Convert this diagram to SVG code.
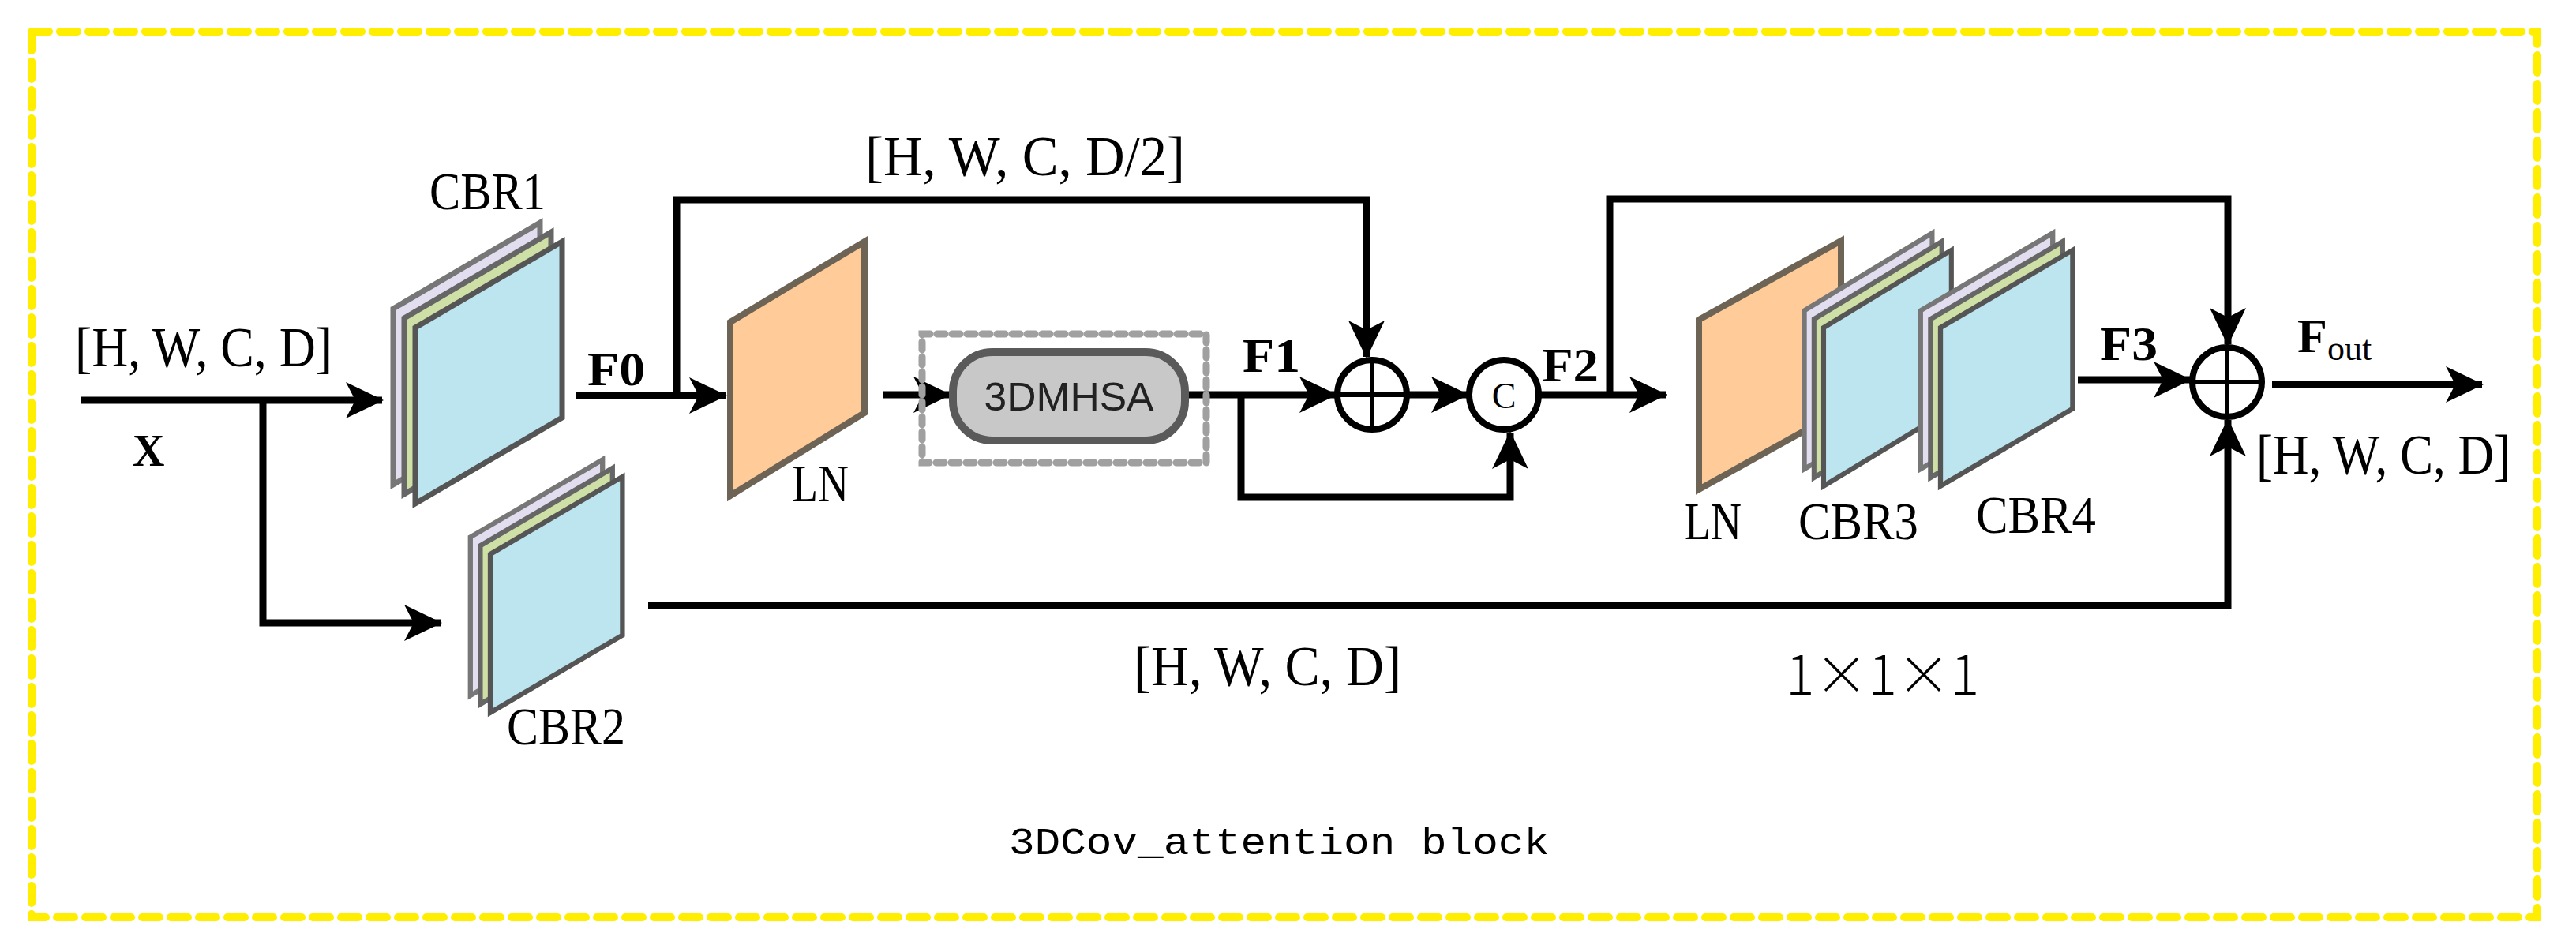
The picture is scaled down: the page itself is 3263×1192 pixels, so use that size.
<svg xmlns="http://www.w3.org/2000/svg" width="3263" height="1192" viewBox="0 0 3263 1192">
<style>
.t{font-family:"Liberation Serif","Noto Serif CJK SC",serif;fill:#000}
.b{font-weight:bold}
.c{fill:none;stroke:#000;stroke-width:9;stroke-linejoin:miter}
.a{marker-end:url(#ah)}
.blue{fill:#BDE5EF;stroke:#555;stroke-width:7}
.grn{fill:#CFE0A6;stroke:#666;stroke-width:7}
.lav{fill:#E2DDEF;stroke:#777;stroke-width:7}
.org{fill:#FFCC99;stroke:#6e6456;stroke-width:8}
</style>
<defs>
<marker id="ah" markerUnits="userSpaceOnUse" markerWidth="50" markerHeight="50" viewBox="0 0 50 50" refX="46" refY="25" orient="auto">
<path d="M0,2 L48,25 L0,48 L12,25 Z" fill="#000"/>
</marker>
<g id="cbr">
<polygon class="lav" points="-28,-24 158,-133 158,90 -28,199"/>
<polygon class="grn" points="-14,-12 172,-121 172,102 -14,211"/>
<polygon class="blue" points="0,0 186,-109 186,114 0,223"/>
</g>
</defs>
<rect x="40" y="40" width="3174" height="1122" fill="none" stroke="#FFEE00" stroke-width="10" stroke-dasharray="22,14" stroke-linecap="round"/>
<g id="connectors">
<polyline class="c a" points="102,507 484,507"/>
<polyline class="c a" points="333,507 333,789 558,789"/>
<polyline class="c a" points="730,501 919,501"/>
<polyline class="c a" points="857,501 857,253 1731,253 1731,452"/>
<polyline class="c a" points="1119,500 1203,500"/>
<polyline class="c a" points="1497,500 1692,500"/>
<polyline class="c a" points="1572,500 1572,630 1913,630 1913,548"/>
<polyline class="c a" points="1784,500 1859,500"/>
<polyline class="c a" points="1951,500 2110,500"/>
<polyline class="c a" points="2039,500 2039,252 2822,252 2822,436"/>
<polyline class="c a" points="2632,481 2774,481"/>
<polyline class="c a" points="821,767 2822,767 2822,532"/>
<polyline class="c a" points="2878,487 3144,487"/>
</g>
<g id="cbr1"><use href="#cbr" transform="translate(526,415)"/><text class="t" x="544" y="265" font-size="68" textLength="147" lengthAdjust="spacingAndGlyphs">CBR1</text></g>
<g id="cbr2"><use href="#cbr" transform="translate(621,702) scale(0.9)"/><text class="t" x="642" y="943" font-size="68" textLength="150" lengthAdjust="spacingAndGlyphs">CBR2</text></g>
<g id="ln1"><polygon class="org" points="925,408 1095,306 1095,523 925,628"/><text class="t" x="1003" y="635" font-size="68" textLength="72" lengthAdjust="spacingAndGlyphs">LN</text></g>
<g id="mhsa">
<rect x="1168" y="423" width="360" height="163" fill="none" stroke="#a0a0a0" stroke-width="9" stroke-dasharray="10,9" stroke-linecap="round"/>
<rect x="1207" y="446" width="294" height="112" rx="50" fill="#C8C8C8" stroke="#5a5a5a" stroke-width="10"/>
<text x="1354" y="520" font-family="'Liberation Sans',Arial,sans-serif" font-size="50" text-anchor="middle" fill="#222" textLength="215" lengthAdjust="spacingAndGlyphs">3DMHSA</text>
</g>
<g id="add1"><circle cx="1738" cy="500" r="44" fill="#fff" stroke="#000" stroke-width="8"/><path d="M1694,500H1782M1738,456V544" stroke="#000" stroke-width="6"/></g>
<g id="concat"><circle cx="1905" cy="500" r="44" fill="#fff" stroke="#000" stroke-width="8"/><text class="t" x="1905" y="517" font-size="46" text-anchor="middle">C</text></g>
<g id="ln2"><polygon class="org" points="2152,405 2332,305 2332,520 2152,620"/><text class="t" x="2134" y="683" font-size="68" textLength="72" lengthAdjust="spacingAndGlyphs">LN</text></g>
<g id="cbr3"><use href="#cbr" transform="translate(2310,415) scale(0.87,0.9)"/><text class="t" x="2278" y="683" font-size="68" textLength="152" lengthAdjust="spacingAndGlyphs">CBR3</text></g>
<g id="cbr4"><use href="#cbr" transform="translate(2458,415) scale(0.9)"/><text class="t" x="2503" y="675" font-size="68" textLength="152" lengthAdjust="spacingAndGlyphs">CBR4</text></g>
<g id="add2"><circle cx="2821" cy="484" r="44" fill="#fff" stroke="#000" stroke-width="8"/><path d="M2777,484H2865M2821,440V528" stroke="#000" stroke-width="6"/></g>
<g id="labels">
<text class="t" x="95" y="464" font-size="72" textLength="326" lengthAdjust="spacingAndGlyphs">[H, W, C, D]</text>
<text class="t b" x="168" y="590" font-size="56">X</text>
<text class="t b" x="744" y="488" font-size="62" textLength="73" lengthAdjust="spacingAndGlyphs">F0</text>
<text class="t" x="1096" y="222" font-size="72" textLength="405" lengthAdjust="spacingAndGlyphs">[H, W, C, D/2]</text>
<text class="t b" x="1574" y="471" font-size="62" textLength="73" lengthAdjust="spacingAndGlyphs">F1</text>
<text class="t b" x="1953" y="483" font-size="62" textLength="72" lengthAdjust="spacingAndGlyphs">F2</text>
<text class="t b" x="2660" y="456" font-size="62" textLength="73" lengthAdjust="spacingAndGlyphs">F3</text>
<text class="t b" x="2910" y="446" font-size="62">F<tspan font-size="44" dy="10" font-weight="normal">out</tspan></text>
<text class="t" x="2858" y="600" font-size="72" textLength="322" lengthAdjust="spacingAndGlyphs">[H, W, C, D]</text>
<text class="t" x="1436" y="868" font-size="72" textLength="339" lengthAdjust="spacingAndGlyphs">[H, W, C, D]</text>
<text x="2262" y="880" font-family="'Noto Sans CJK SC',sans-serif" font-weight="300" font-size="68">1×1×1</text>
<text x="1278" y="1082" font-family="'Liberation Mono','Courier New',monospace" font-size="48" textLength="685" lengthAdjust="spacingAndGlyphs">3DCov_attention block</text>
</g>
</svg>
